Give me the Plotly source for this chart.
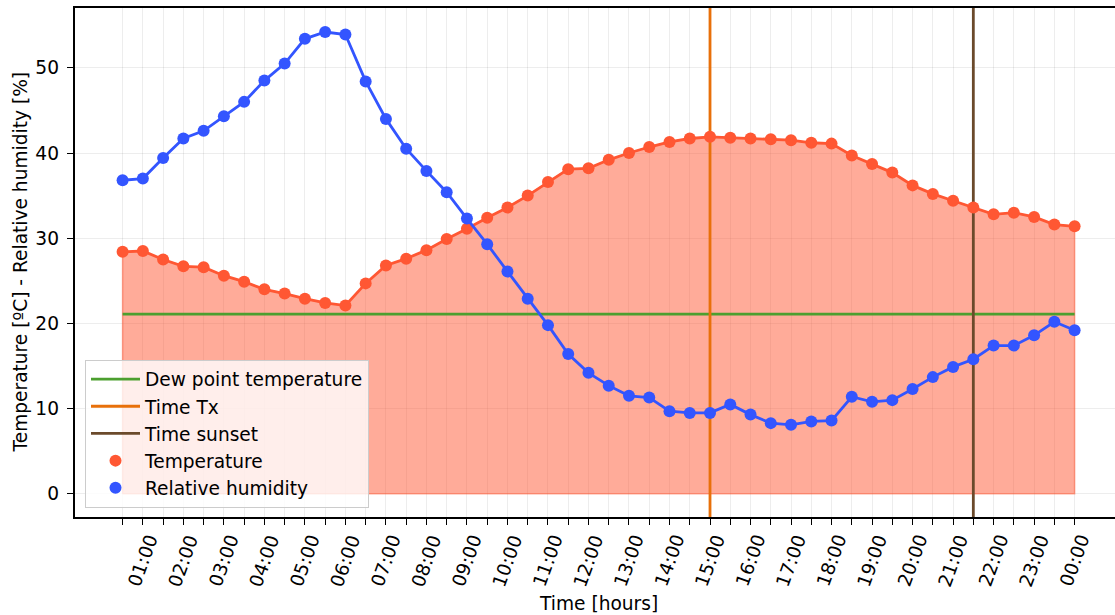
import plotly.graph_objects as go

# Half-hourly observations: 00:30 ... 24:00 (48 samples)
hours = [0.5 + 0.5 * i for i in range(48)]

temperature = [
    28.4, 28.5, 27.5, 26.7, 26.6, 25.6, 24.9, 24.0, 23.5, 22.9,
    22.4, 22.1, 24.7, 26.8, 27.6, 28.6, 29.9, 31.1, 32.4, 33.6,
    35.0, 36.6, 38.1, 38.2, 39.2, 40.0, 40.7, 41.3, 41.7, 41.9,
    41.8, 41.7, 41.6, 41.5, 41.2, 41.1, 39.7, 38.7, 37.7, 36.2,
    35.2, 34.4, 33.6, 32.8, 33.0, 32.5, 31.6, 31.4,
]
humidity = [
    36.8, 37.0, 39.4, 41.7, 42.6, 44.3, 46.0, 48.5, 50.5, 53.4,
    54.2, 53.9, 48.4, 44.0, 40.5, 37.9, 35.4, 32.3, 29.3, 26.1,
    22.9, 19.8, 16.4, 14.2, 12.7, 11.5, 11.3, 9.7, 9.5, 9.5,
    10.5, 9.3, 8.3, 8.1, 8.5, 8.6, 11.4, 10.8, 11.0, 12.3,
    13.7, 14.9, 15.8, 17.4, 17.4, 18.6, 20.2, 19.2,
]
dew_point = 21.1
time_tx = 15.0
time_sunset = 21.5

tick_hours = list(range(1, 25))
tick_labels = [f"{h % 24:02d}:00" for h in tick_hours]

FONT = "DejaVu Sans"
FS = 18.6
RED = "#FF5733"
BLUE = "#3355FF"
GREEN = "#4C9F2F"
ORANGE = "#E8700A"
BROWN = "#6B4A2B"

y_lo, y_hi = -2.715, 57.015
x_lo, x_hi = -0.675, 24.997

fig = go.Figure()

# Shaded area under the temperature curve
fill_x = [hours[0]] + hours + [hours[-1], hours[0]]
fill_y = [0] + temperature + [0, 0]
fig.add_trace(go.Scatter(
    x=fill_x, y=fill_y, mode="lines", fill="toself",
    fillcolor="rgba(255,87,51,0.5)",
    line=dict(color="rgba(255,87,51,0.5)", width=1.5),
    showlegend=False, hoverinfo="skip",
))

fig.add_trace(go.Scatter(
    x=[hours[0], hours[-1]], y=[dew_point, dew_point], mode="lines",
    line=dict(color=GREEN, width=2.8), name="Dew point temperature",
))
fig.add_trace(go.Scatter(
    x=[time_tx, time_tx], y=[y_lo - 10, y_hi + 10], mode="lines",
    line=dict(color=ORANGE, width=2.8), name="Time Tx",
))
fig.add_trace(go.Scatter(
    x=[time_sunset, time_sunset], y=[y_lo - 10, y_hi + 10], mode="lines",
    line=dict(color=BROWN, width=2.8), name="Time sunset",
))

fig.add_trace(go.Scatter(
    x=hours, y=temperature, mode="lines",
    line=dict(color=RED, width=2.8), showlegend=False,
))
fig.add_trace(go.Scatter(
    x=hours, y=temperature, mode="markers",
    marker=dict(color=RED, size=12), name="Temperature",
))
fig.add_trace(go.Scatter(
    x=hours, y=humidity, mode="lines",
    line=dict(color=BLUE, width=2.8), showlegend=False,
))
fig.add_trace(go.Scatter(
    x=hours, y=humidity, mode="markers",
    marker=dict(color=BLUE, size=12), name="Relative humidity",
))

# Rotated hour labels under the axis
for h, lab in zip(tick_hours, tick_labels):
    fig.add_annotation(
        x=h, y=0, xref="x", yref="paper", text=lab, showarrow=False,
        textangle=-70, xanchor="center", yanchor="top", yshift=-12,
        font=dict(family=FONT, size=FS, color="black"),
    )

fig.add_annotation(
    x=(598 - 75) / 1040, y=-0.169, xref="paper", yref="paper",
    text="Time [hours]", showarrow=False, xanchor="center", yanchor="middle",
    font=dict(family=FONT, size=FS, color="black"),
)
fig.add_annotation(
    x=0, y=0.5, xref="paper", yref="paper", xshift=-55,
    text="Temperature [ºC] - Relative humidity [%]", showarrow=False,
    textangle=-90, xanchor="center", yanchor="middle",
    font=dict(family=FONT, size=FS, color="black"),
)

fig.update_layout(
    width=1115, height=615,
    margin=dict(l=75, r=0, t=8, b=98),
    paper_bgcolor="white", plot_bgcolor="white",
    font=dict(family=FONT, size=FS, color="black"),
    xaxis=dict(
        range=[x_lo, x_hi],
        tickvals=hours, showticklabels=False,
        ticks="outside", ticklen=6.5, tickwidth=1.4, tickcolor="black",
        showgrid=True, gridcolor="rgba(0,0,0,0.07)", gridwidth=1.4,
        showline=True, linecolor="black", linewidth=1.5, mirror=True,
        zeroline=False,
    ),
    yaxis=dict(
        range=[y_lo, y_hi],
        tickvals=[0, 10, 20, 30, 40, 50],
        ticks="outside", ticklen=6.5, tickwidth=1.4, tickcolor="black",
        ticklabelstandoff=4,
        showgrid=True, gridcolor="rgba(0,0,0,0.07)", gridwidth=1.4,
        showline=True, linecolor="black", linewidth=1.5, mirror=False,
        zeroline=False,
    ),
    legend=dict(
        x=10 / 1040, y=(517 - 507.5) / 509, xanchor="left", yanchor="bottom",
        bgcolor="rgba(255,255,255,0.8)", bordercolor="#cccccc", borderwidth=1,
        font=dict(family=FONT, size=FS, color="black"),
        itemwidth=49,
    ),
    showlegend=True,
)

fig.write_html("out.html")
